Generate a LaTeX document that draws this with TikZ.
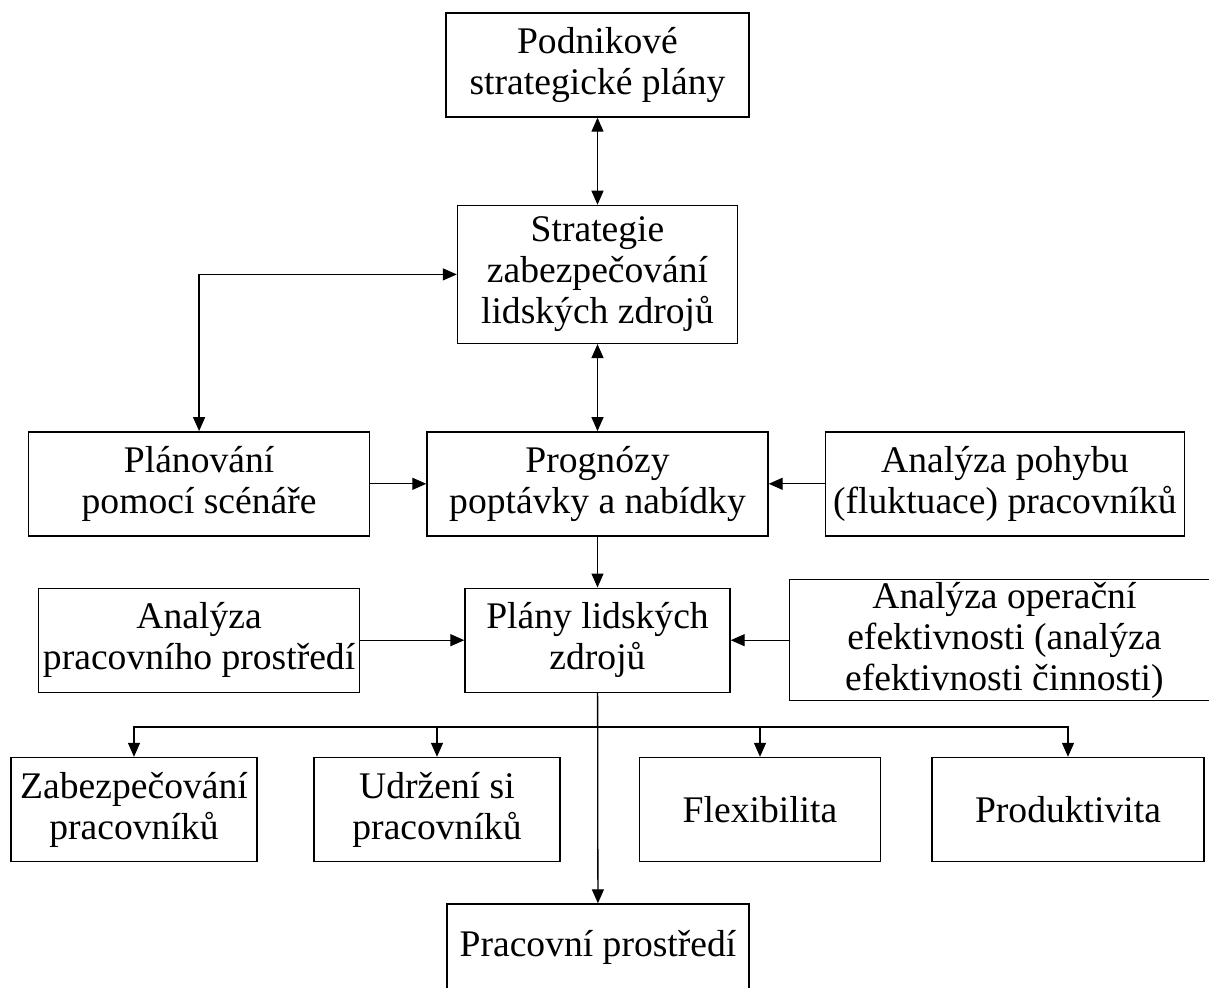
\documentclass[tikz,border=0pt]{standalone}
\usepackage{fontspec}
\setmainfont{Liberation Serif}
\usetikzlibrary{positioning,arrows.meta}

\begin{document}
\begin{tikzpicture}[x=1pt, y=1pt, font=\fontsize{37.6}{41}\selectfont,
      box/.style={draw, line width=1.4pt, align=center, inner sep=0pt,
                  minimum height=104pt},
      arr/.style={-{Triangle[length=14pt,width=12pt]}, line width=1.3pt},
      dbl/.style={{Triangle[length=14pt,width=12pt]}-{Triangle[length=14pt,width=12pt]}, line width=1.3pt}]
    \useasboundingbox (0,0) rectangle (1209,-987);
    % strategy column
    \node[box, minimum width=303pt] (podnik) at (597.5,-65) {Podnikové\\strategické plány};
    \node[box, minimum width=280pt, minimum height=138pt, below=87pt of podnik] (strat)
      {Strategie\\zabezpečování\\lidských zdrojů};
    \node[box, minimum width=341pt, below=87pt of strat] (prog) {Prognózy\\poptávky a nabídky};
    \node[box, minimum width=341pt, left=56pt of prog] (scenar) {Plánování\\pomocí scénáře};
    \node[box, minimum width=359pt, right=56pt of prog] (pohyb) {Analýza pohybu\\(fluktuace) pracovníků};
    % plans
    \node[box, minimum width=265pt, below=51pt of prog] (plany) {Plány lidských\\zdrojů};
    \node[box, minimum width=321pt, left=104pt of plany] (prostr) {Analýza\\pracovního prostředí};
    \node[box, minimum width=430pt, minimum height=121pt, right=58pt of plany] (oper)
      {Analýza operační\\efektivnosti (analýza\\efektivnosti činnosti)};
    % outcomes
    \node[box, minimum width=246pt] (zabez) at (134,-809.5) {Zabezpečování\\pracovníků};
    \node[box, minimum width=246pt] (udrz) at (437,-809.5) {Udržení si\\pracovníků};
    \node[box, minimum width=241pt] (flex) at (760,-809.5) {Flexibilita};
    \node[box, minimum width=272pt] (prod) at (1068,-809.5) {Produktivita};
    \node[box, minimum width=302pt, minimum height=86pt] (pracprost) at (598,-947) {Pracovní prostředí};
    \coordinate[below=34pt of plany] (fork);

    \draw[dbl] (podnik) -- (strat);
    \draw[dbl] (scenar.north) |- (strat.west);
    \draw[dbl] (strat) -- (prog);
    \draw[arr] (scenar) -- (prog);
    \draw[arr] (pohyb) -- (prog);
    \draw[arr] (prog) -- (plany);
    \draw[arr] (prostr) -- (plany);
    \draw[arr] (oper) -- (plany);
    \draw[arr] (plany) -- (pracprost);
    \draw[arr] (fork) -| (zabez);
    \draw[arr] (fork) -| (udrz);
    \draw[arr] (fork) -| (flex);
    \draw[arr] (fork) -| (prod);
  \end{tikzpicture}
\end{document}
